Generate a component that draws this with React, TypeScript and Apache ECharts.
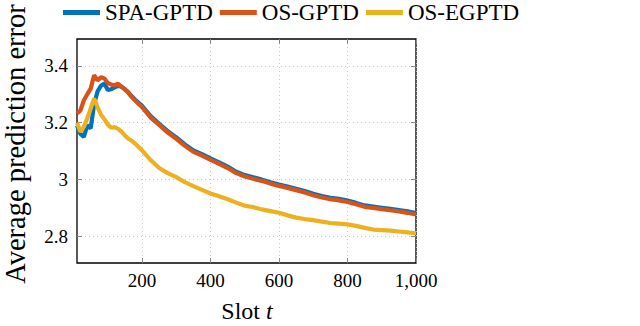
import React, { useEffect, useRef } from "react";
import * as echarts from "echarts";

const slots = [10, 20, 30, 40, 50, 60, 70, 80, 90, 100, 110, 120, 130, 140, 150, 160, 170, 180, 190, 200,
  225, 250, 275, 300, 325, 350, 375, 400, 425, 450, 475, 500, 525, 550, 575, 600, 625, 650, 675, 700,
  725, 750, 775, 800, 825, 850, 875, 900, 925, 950, 975, 1000];

const spaGptd = [3.19, 3.16, 3.15, 3.19, 3.18, 3.265, 3.31, 3.33, 3.338, 3.315, 3.318, 3.324, 3.33, 3.327, 3.318, 3.307, 3.293, 3.281, 3.27, 3.259,
  3.223, 3.196, 3.17, 3.148, 3.123, 3.102, 3.089, 3.074, 3.06, 3.045, 3.027, 3.015, 3.007, 2.999, 2.99, 2.982, 2.975, 2.967, 2.959, 2.949,
  2.941, 2.935, 2.931, 2.925, 2.917, 2.908, 2.904, 2.9, 2.896, 2.892, 2.887, 2.881];

const osGptd = [3.232, 3.243, 3.279, 3.3, 3.32, 3.367, 3.349, 3.36, 3.356, 3.34, 3.334, 3.332, 3.337, 3.326, 3.317, 3.305, 3.29, 3.278, 3.266, 3.255,
  3.218, 3.192, 3.165, 3.143, 3.118, 3.097, 3.084, 3.069, 3.055, 3.04, 3.022, 3.01, 3.002, 2.994, 2.985, 2.977, 2.97, 2.962, 2.954, 2.944,
  2.936, 2.93, 2.926, 2.92, 2.912, 2.903, 2.899, 2.895, 2.891, 2.887, 2.882, 2.876];

const osEgptd = [3.2, 3.168, 3.185, 3.215, 3.25, 3.285, 3.255, 3.228, 3.212, 3.193, 3.182, 3.184, 3.178, 3.168, 3.155, 3.143, 3.136, 3.126, 3.114, 3.102,
  3.068, 3.04, 3.022, 3.008, 2.99, 2.976, 2.963, 2.95, 2.94, 2.93, 2.918, 2.907, 2.902, 2.894, 2.888, 2.882, 2.873, 2.865, 2.86, 2.856,
  2.851, 2.846, 2.844, 2.841, 2.836, 2.829, 2.823, 2.821, 2.819, 2.816, 2.813, 2.81];

const xTicks = [200, 400, 600, 800, 1000];
const yTicks = [2.8, 3, 3.2, 3.4];
const seriesNames = ["SPA-GPTD", "OS-GPTD", "OS-EGPTD"];
const seriesColors = ["#0072BD", "#D95319", "#EDB120"];

const FONT = "Liberation Serif";

export default function App() {
  const ref = useRef<HTMLDivElement>(null);
  useEffect(() => {
    if (!ref.current) return;
    const chart = echarts.init(ref.current, undefined, { renderer: "svg" });
    const values = [spaGptd, osGptd, osEgptd];
    const tickCommon = { show: true, inside: true, length: 5, lineStyle: { color: "#888", width: 1 } };
    const splitCommon = { show: true, lineStyle: { color: "#c8c8c8", type: [1, 3] as any, width: 1 } };
    const option: any = {
      animation: false,
      backgroundColor: "#fff",
      textStyle: { fontFamily: FONT, fontWeight: "normal" },
      legend: {
        left: 63,
        top: 1,
        padding: 0,
        icon: "rect",
        itemWidth: 37,
        itemHeight: 5,
        itemGap: 7,
        textStyle: { fontFamily: FONT, fontSize: 23, fontWeight: "normal", color: "#000" },
        data: seriesNames,
      },
      grid: {
        left: 77,
        top: 39,
        width: 339,
        height: 224,
        show: true,
        borderColor: "#000",
        borderWidth: 1.3,
        outerBoundsMode: "none",
      },
      xAxis: [
        {
          type: "value",
          min: 10,
          max: 1000,
          axisLine: { show: false },
          axisTick: { ...tickCommon, customValues: xTicks },
          axisLabel: {
            customValues: xTicks,
            margin: 8,
            fontFamily: FONT,
            fontSize: 19,
            color: "#000",
            formatter: (v: number) => v.toLocaleString("en-US"),
          },
          splitLine: splitCommon,
        },
        {
          type: "value",
          position: "top",
          min: 10,
          max: 1000,
          axisLine: { show: false },
          axisTick: { ...tickCommon, customValues: xTicks },
          axisLabel: { show: false },
          splitLine: { show: false },
        },
      ],
      yAxis: [
        {
          type: "value",
          min: 2.705,
          max: 3.495,
          axisLine: { show: false },
          axisTick: { ...tickCommon, customValues: yTicks },
          axisLabel: {
            customValues: yTicks,
            margin: 9,
            fontFamily: FONT,
            fontSize: 19,
            color: "#000",
            formatter: (v: number) => String(v),
          },
          splitLine: splitCommon,
        },
        {
          type: "value",
          position: "right",
          min: 2.705,
          max: 3.495,
          axisLine: { show: false },
          axisTick: { ...tickCommon, customValues: yTicks },
          axisLabel: { show: false },
          splitLine: { show: false },
        },
      ],
      graphic: [
        {
          type: "text",
          x: 15,
          y: 144,
          rotation: Math.PI / 2,
          style: {
            text: "Average prediction error",
            fontFamily: FONT,
            fontSize: 28.5,
            fill: "#000",
            textAlign: "center",
            textVerticalAlign: "middle",
          },
        },
        {
          type: "text",
          x: 247,
          y: 311,
          style: {
            text: "Slot {i|t}",
            fontFamily: FONT,
            fontSize: 24,
            fill: "#000",
            textAlign: "center",
            textVerticalAlign: "middle",
            rich: { i: { fontFamily: FONT, fontSize: 24, fontStyle: "italic", fill: "#000" } },
          },
        },
      ],
      series: seriesNames.map((name, i) => ({
        name,
        type: "line",
        xAxisIndex: 0,
        yAxisIndex: 0,
        data: slots.map((s, k) => [s, values[i][k]]),
        showSymbol: false,
        symbol: "none",
        lineStyle: { color: seriesColors[i], width: 4.2 },
        itemStyle: { color: seriesColors[i] },
        z: 2 + i,
      })),
    };
    chart.setOption(option);
    return () => chart.dispose();
  }, []);
  return (
    <div
      ref={ref}
      style={{ position: "fixed", left: 0, top: 0, width: 640, height: 326 }}
    />
  );
}
